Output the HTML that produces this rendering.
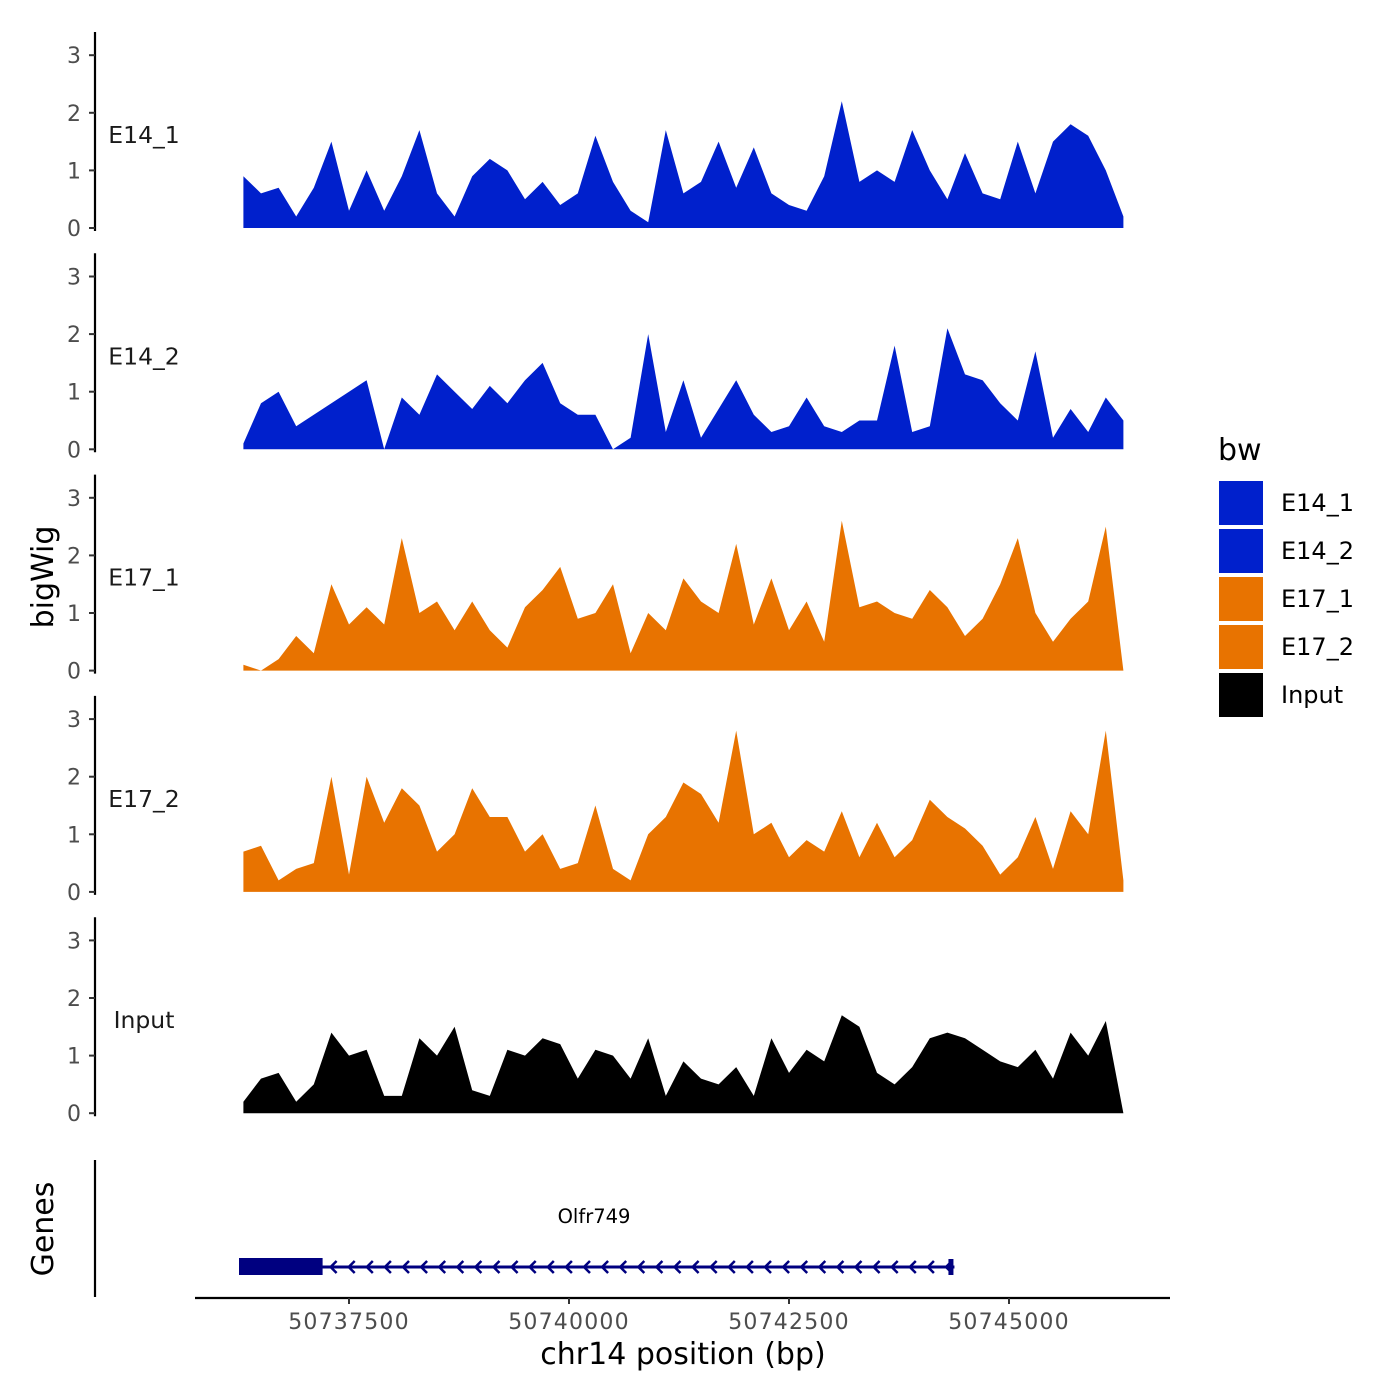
<!DOCTYPE html>
<html><head><meta charset="utf-8">
<style>
html,body{margin:0;padding:0;background:#fff;}
svg{display:block;font-family:"DejaVu Sans","Liberation Sans",sans-serif;}
</style></head>
<body>
<svg id="chart" width="1400" height="1400" viewBox="0 0 1400 1400" xmlns="http://www.w3.org/2000/svg"></svg>
<script>
// ---- data ----
const binStart = 50736300;
const binStep = 200;
const trackNames = ["E14_1","E14_2","E17_1","E17_2","Input"];
const e14_1 = [0.9,0.6,0.7,0.2,0.7,1.5,0.3,1.0,0.3,0.9,1.7,0.6,0.2,0.9,1.2,1.0,0.5,0.8,0.4,0.6,1.6,0.8,0.3,0.1,1.7,0.6,0.8,1.5,0.7,1.4,0.6,0.4,0.3,0.9,2.2,0.8,1.0,0.8,1.7,1.0,0.5,1.3,0.6,0.5,1.5,0.6,1.5,1.8,1.6,1.0,0.2];
const e14_2 = [0.1,0.8,1.0,0.4,0.6,0.8,1.0,1.2,0.0,0.9,0.6,1.3,1.0,0.7,1.1,0.8,1.2,1.5,0.8,0.6,0.6,0.0,0.2,2.0,0.3,1.2,0.2,0.7,1.2,0.6,0.3,0.4,0.9,0.4,0.3,0.5,0.5,1.8,0.3,0.4,2.1,1.3,1.2,0.8,0.5,1.7,0.2,0.7,0.3,0.9,0.5];
const e17_1 = [0.1,0.0,0.2,0.6,0.3,1.5,0.8,1.1,0.8,2.3,1.0,1.2,0.7,1.2,0.7,0.4,1.1,1.4,1.8,0.9,1.0,1.5,0.3,1.0,0.7,1.6,1.2,1.0,2.2,0.8,1.6,0.7,1.2,0.5,2.6,1.1,1.2,1.0,0.9,1.4,1.1,0.6,0.9,1.5,2.3,1.0,0.5,0.9,1.2,2.5,0.0];
const e17_2 = [0.7,0.8,0.2,0.4,0.5,2.0,0.3,2.0,1.2,1.8,1.5,0.7,1.0,1.8,1.3,1.3,0.7,1.0,0.4,0.5,1.5,0.4,0.2,1.0,1.3,1.9,1.7,1.2,2.8,1.0,1.2,0.6,0.9,0.7,1.4,0.6,1.2,0.6,0.9,1.6,1.3,1.1,0.8,0.3,0.6,1.3,0.4,1.4,1.0,2.8,0.2];
const inputTrack = [0.2,0.6,0.7,0.2,0.5,1.4,1.0,1.1,0.3,0.3,1.3,1.0,1.5,0.4,0.3,1.1,1.0,1.3,1.2,0.6,1.1,1.0,0.6,1.3,0.3,0.9,0.6,0.5,0.8,0.3,1.3,0.7,1.1,0.9,1.7,1.5,0.7,0.5,0.8,1.3,1.4,1.3,1.1,0.9,0.8,1.1,0.6,1.4,1.0,1.6,0.0];
const xTicks = [50737500,50740000,50742500,50745000];
const yTicks = [0,1,2,3];
const geneStart = 50736250;
const geneEnd = 50744380;
const cdsEnd = 50737200;
const geneName = "Olfr749";

// ---- scales ----
const NS="http://www.w3.org/2000/svg";
const svg=document.getElementById('chart');
function xs(bp){return 349+(bp-50737500)*0.088;}
const panelZero=[228,449.3,670.6,891.9,1113.2];
const unit=57.6;
const colors=["#0020cc","#0020cc","#e87300","#e87300","#000000"];
const seriesList=[e14_1,e14_2,e17_1,e17_2,inputTrack];
function mk(tag,attrs,parent){const e=document.createElementNS(NS,tag);for(const k in attrs)e.setAttribute(k,attrs[k]);(parent||svg).appendChild(e);return e;}

seriesList.forEach((vals,p)=>{
  const y0=panelZero[p];
  const g=mk('g',{});
  
  
  const ax=mk('line',{x1:95,x2:95,y1:y0-196,y2:y0+3,stroke:'#000','stroke-width':2.2},g);
  
  
  yTicks.forEach(t=>{
    const yy=y0-t*unit;
    const tk=mk('line',{x1:89,x2:95,y1:yy,y2:yy,stroke:'#333','stroke-width':2},g);
    
    
    const tl=mk('text',{x:81,y:yy+8,'text-anchor':'end','font-size':22,fill:'#4d4d4d'},g);
    tl.textContent=t;
    
    
  });
  const lab=mk('text',{x:144,y:y0-85,'text-anchor':'middle','font-size':23.5,fill:'#1a1a1a'},g);
  lab.textContent=trackNames[p];
  
  
  let d='M'+xs(binStart)+','+y0;
  vals.forEach((v,i)=>{d+=' L'+xs(binStart+i*binStep).toFixed(1)+','+(y0-v*unit).toFixed(1);});
  d+=' L'+xs(binStart+(vals.length-1)*binStep).toFixed(1)+','+y0+' Z';
  const area=mk('path',{d:d,fill:colors[p]},g);
  
  
});

const yt=mk('text',{x:0,y:0,transform:'translate(53,577) rotate(-90)','text-anchor':'middle','font-size':30,fill:'#000'});
yt.textContent='bigWig';



const gax=mk('line',{x1:95,x2:95,y1:1160,y2:1297,stroke:'#000','stroke-width':2.2});


const gt=mk('text',{x:0,y:0,transform:'translate(53,1229) rotate(-90)','text-anchor':'middle','font-size':30,fill:'#000'});
gt.textContent='Genes';


const gg=mk('g',{});


const gl=mk('line',{x1:xs(geneStart),x2:xs(geneEnd),y1:1267,y2:1267,stroke:'#000080','stroke-width':3},gg);


const gr=mk('rect',{x:xs(geneStart),y:1258,width:xs(cdsEnd)-xs(geneStart),height:17,fill:'#000080'},gg);


for(let x=xs(cdsEnd)+8;x<xs(geneEnd)-4;x+=18.1){
  const a=mk('path',{d:`M${x+6},1261 L${x},1267 L${x+6},1273`,fill:'none',stroke:'#000080','stroke-width':2.5},gg);
  
  
}
const ge=mk('rect',{x:xs(geneEnd)-6,y:1259,width:5,height:16,fill:'#000080'},gg);


const gn=mk('text',{x:594,y:1223,'text-anchor':'middle','font-size':19.5,fill:'#000'},gg);
gn.textContent=geneName;



const xa=mk('line',{x1:195,x2:1170,y1:1298,y2:1298,stroke:'#000','stroke-width':2.2});


xTicks.forEach(t=>{
  const tk=mk('line',{x1:xs(t),x2:xs(t),y1:1298,y2:1304,stroke:'#333','stroke-width':2});
  
  
  const tl=mk('text',{x:xs(t),y:1329,'text-anchor':'middle','font-size':22,'letter-spacing':1.2,fill:'#4d4d4d'});
  tl.textContent=t;
  
  
});
const xt=mk('text',{x:683,y:1364,'text-anchor':'middle','font-size':30,fill:'#000'});
xt.textContent='chr14 position (bp)';



const lg=mk('g',{});


const ltitle=mk('text',{x:1218,y:460,'font-size':30,fill:'#000'},lg);
ltitle.textContent='bw';


trackNames.forEach((n,i)=>{
  const y=481+i*48;
  const e=mk('g',{},lg);
  
  
  const r=mk('rect',{x:1219,y:y,width:44,height:44,fill:colors[i]},e);
  
  
  const t=mk('text',{x:1281,y:y+30,'font-size':24,fill:'#000'},e);
  t.textContent=n;
  
  
});
</script>
</body></html>
